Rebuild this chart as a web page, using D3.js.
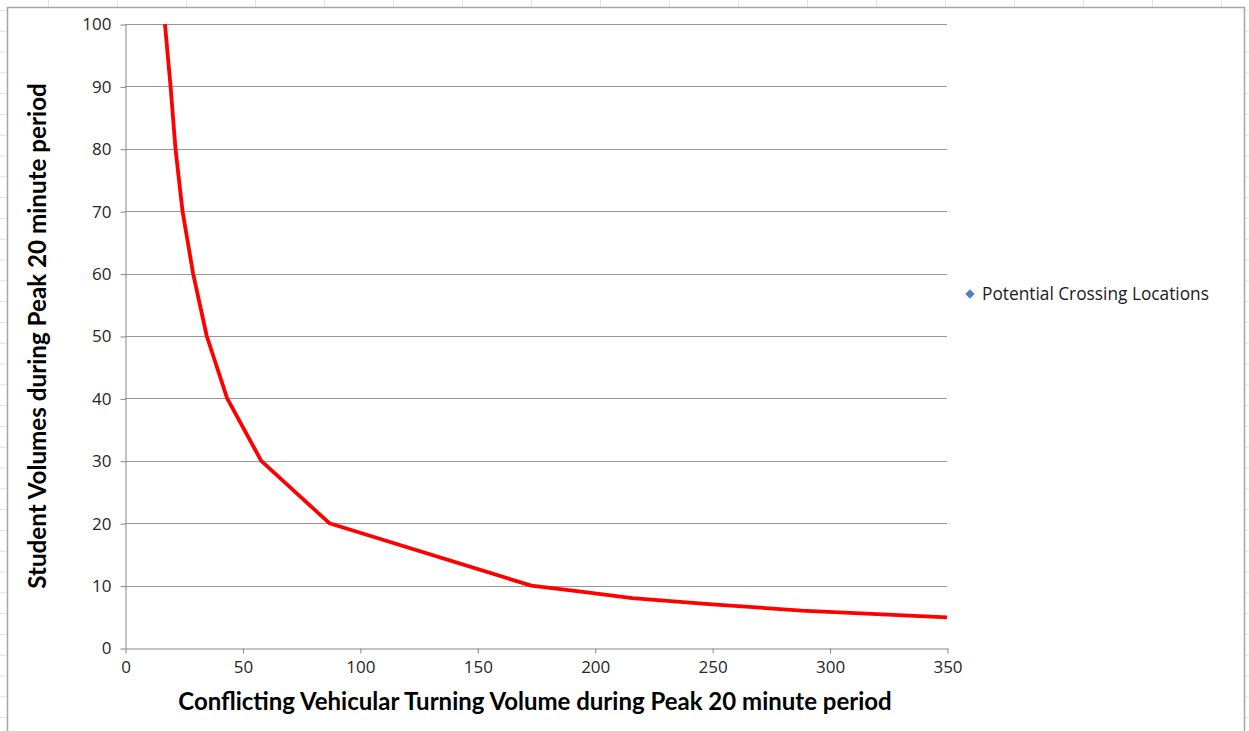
<!DOCTYPE html>
<html>
<head>
<meta charset="utf-8">
<script src="https://cdn.jsdelivr.net/npm/d3@7"></script>
<style>
  html, body { margin: 0; padding: 0; background: #fff; }
  svg { display: block; }
</style>
</head>
<body>
<svg id="chart" width="1249" height="731"></svg>
<script>
// Curve: conflicting turning volume (x) vs student volume (y)
const turningVolume = [17, 19.4, 21.5, 24.5, 29, 34.8, 43.5, 58, 87, 173, 195, 216, 250, 288, 350];
const studentVolume = [100, 90, 80, 70, 60, 50, 40, 30, 20, 10, 9, 8, 7, 6, 4.9];
const xTicks = [0, 50, 100, 150, 200, 250, 300, 350];
const yTicks = [0, 10, 20, 30, 40, 50, 60, 70, 80, 90, 100];
const seriesName = "Potential Crossing Locations";
const xTitle = "Conflicting Vehicular Turning Volume during Peak 20 minute period";
const yTitle = "Student Volumes during Peak 20 minute period";

const svg = d3.select("#chart");
const plot = { left: 125, right: 947, top: 24, bottom: 648 };

const x = d3.scaleLinear().domain([0, 350]).range([plot.left, plot.right]);
const y = d3.scaleLinear().domain([0, 100]).range([plot.bottom, plot.top]);

// Faint worksheet cell lines behind the chart frame
const bg = svg.append("g").attr("stroke", "#e3e3e3").attr("stroke-width", 1);
d3.range(10, 731, 20.8).forEach(v => {
  bg.append("line").attr("x1", 0).attr("x2", 7).attr("y1", v + 0.5).attr("y2", v + 0.5);
  bg.append("line").attr("x1", 1244).attr("x2", 1249).attr("y1", v + 0.5).attr("y2", v + 0.5);
});
d3.range(48, 1244, 69).forEach(v => {
  bg.append("line").attr("x1", v + 0.5).attr("x2", v + 0.5).attr("y1", 0).attr("y2", 7);
});

// Chart frame
svg.append("path")
  .attr("d", "M7.5,740 V7.5 H1244.5 V740")
  .attr("fill", "none").attr("stroke", "#a6a6a6").attr("stroke-width", 1.5);

// Horizontal gridlines
svg.append("g")
  .selectAll("line")
  .data(yTicks.filter(d => d > 0))
  .join("line")
  .attr("x1", plot.left).attr("x2", plot.right)
  .attr("y1", d => Math.round(y(d)) + 0.5).attr("y2", d => Math.round(y(d)) + 0.5)
  .attr("stroke", "#979797").attr("stroke-width", 1);

const tickFont = "'Open Sans', sans-serif";

// Y axis
const yAxis = d3.axisLeft(y).tickValues(yTicks).tickSize(5).tickPadding(9).tickSizeOuter(0);
const gy = svg.append("g").attr("transform", `translate(${plot.left + 0.5},0.5)`).call(yAxis);
gy.attr("font-size", 17).attr("font-family", tickFont);
gy.select(".domain").attr("stroke", "#868686");
gy.selectAll(".tick line").attr("stroke", "#868686");
gy.selectAll(".tick text").attr("fill", "#262626").attr("font-size", 17);

// X axis
const xAxis = d3.axisBottom(x).tickValues(xTicks).tickSize(5).tickPadding(7).tickSizeOuter(0);
const gx = svg.append("g").attr("transform", `translate(0.5,${plot.bottom + 0.5})`).call(xAxis);
gx.attr("font-size", 17).attr("font-family", tickFont);
gx.select(".domain").attr("stroke", "#868686");
gx.selectAll(".tick line").attr("stroke", "#868686");
gx.selectAll(".tick text").attr("fill", "#262626").attr("font-size", 17);

// Data line
const pts = turningVolume.map((v, i) => [v, studentVolume[i]]);
svg.append("path")
  .datum(pts)
  .attr("fill", "none")
  .attr("stroke", "#ff0000")
  .attr("stroke-width", 3.8)
  .attr("stroke-linejoin", "round")
  .attr("d", d3.line().x(d => x(d[0])).y(d => y(d[1])));

// Axis titles
svg.append("text")
  .attr("x", (plot.left + plot.right) / 2 - 1).attr("y", 710)
  .attr("text-anchor", "middle")
  .attr("font-family", "Lato, sans-serif").attr("font-weight", "bold").attr("font-size", 24)
  .attr("fill", "#000")
  .text(xTitle);

svg.append("text")
  .attr("transform", `translate(46,${(plot.top + plot.bottom) / 2}) rotate(-90)`)
  .attr("text-anchor", "middle")
  .attr("font-family", "Lato, sans-serif").attr("font-weight", "bold").attr("font-size", 24.2)
  .attr("fill", "#000")
  .text(yTitle);

// Legend
const lg = svg.append("g").attr("transform", "translate(970,294)");
lg.append("path")
  .attr("d", d3.symbol().type(d3.symbolSquare).size(44))
  .attr("transform", "rotate(45)")
  .attr("fill", "#4f81bd");
lg.append("text")
  .attr("x", 12).attr("y", 6)
  .attr("font-family", tickFont).attr("font-size", 17.3)
  .attr("fill", "#1a1a1a")
  .text(seriesName);
</script>
</body>
</html>
